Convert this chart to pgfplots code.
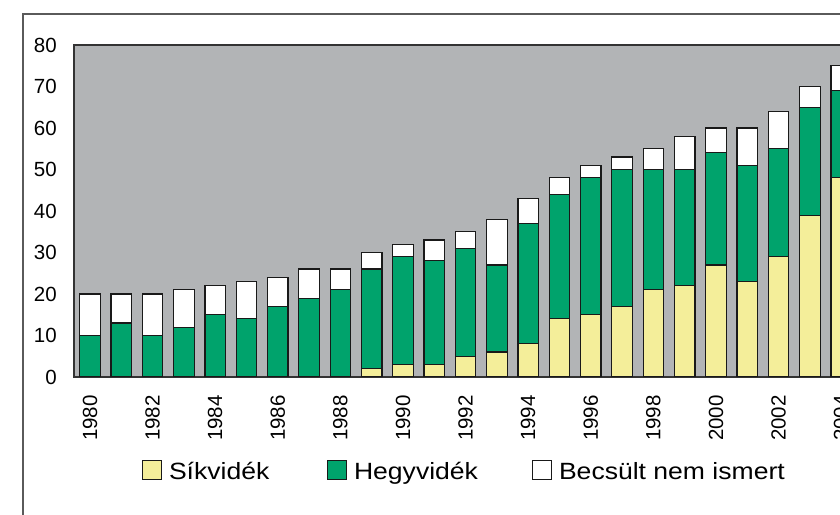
\documentclass[border=0pt]{standalone}
\usepackage{graphicx}
\usepackage{pgfplots}
\usepackage{pgfplotstable}
\pgfplotsset{compat=1.18}
\usepackage{fontspec}
\setmainfont{Liberation Sans}
\definecolor{bggray}{HTML}{B2B4B6}
\definecolor{sik}{HTML}{F4EE9A}
\definecolor{hegy}{HTML}{00A36C}
\definecolor{outerframe}{HTML}{5A5A5A}
\pgfplotstableread{
year sik hegy becs
1980 0 10 10
1981 0 13 7
1982 0 10 10
1983 0 12 9
1984 0 15 7
1985 0 14 9
1986 0 17 7
1987 0 19 7
1988 0 21 5
1989 2 24 4
1990 3 26 3
1991 3 25 5
1992 5 26 4
1993 6 21 11
1994 8 29 6
1995 14 30 4
1996 15 33 3
1997 17 33 3
1998 21 29 5
1999 22 28 8
2000 27 27 6
2001 23 28 9
2002 29 26 9
2003 39 26 5
2004 48 21 6
}\datatable
\pgfplotsset{legbox/.style={/pgfplots/legend image code/.code={\draw[##1, line width=1bp] (0bp,-7bp) rectangle (19bp,12bp);}}}
\begin{document}
\begin{tikzpicture}
\path[use as bounding box] (0,0) rectangle (840bp,515bp);
\draw[outerframe, line width=1.5bp] (23bp,0bp) -- (23bp,501bp) -- (860bp,501bp);
\begin{axis}[
  at={(74bp,138bp)}, anchor=south west,
  scale only axis, width=782.8bp, height=332bp,
  xmin=1979.49, xmax=2004.5, ymin=0, ymax=80,
  ybar stacked, bar width=0.655,
  axis background/.style={fill=bggray},
  axis line style={draw=black!80, line width=1.5bp},
  xtick={1980,1982,...,2004}, ytick={0,10,...,80},
  scaled ticks=false,
  major tick length=0pt,
  tick label style={font=\fontsize{20.5bp}{24bp}\selectfont, /pgf/number format/assume math mode=true, /pgf/number format/1000 sep={}},
  yticklabel style={anchor=east, inner sep=0pt, xshift=-17bp},
  xticklabel style={yshift=-18bp, rotate=90, anchor=east, inner sep=0pt},
  legend columns=3,
  legend style={at={(0.0869,-0.2816)}, anchor=west, draw=none, fill=none, inner sep=0pt, outer sep=0pt,
    font=\fontsize{23.5bp}{28bp}\selectfont,
    /tikz/every odd column/.append style={column sep=7bp},
    nodes={inner sep=0pt}},
  legend cell align=left,
]
\addplot[fill=sik, draw=black!90, line width=1.2bp, legbox] table[x=year, y=sik] {\datatable};
\addlegendentry{\makebox[158bp][l]{\scalebox{1.13}[1]{Síkvidék}}}
\addplot[fill=hegy, draw=black!90, line width=1.2bp, legbox] table[x=year, y=hegy] {\datatable};
\addlegendentry{\makebox[178bp][l]{\scalebox{1.13}[1]{Hegyvidék}}}
\addplot[fill=white, draw=black!90, line width=1.2bp, legbox] table[x=year, y=becs] {\datatable};
\addlegendentry{\scalebox{1.13}[1]{Becsült nem ismert}}
\end{axis}
\end{tikzpicture}
\end{document}
